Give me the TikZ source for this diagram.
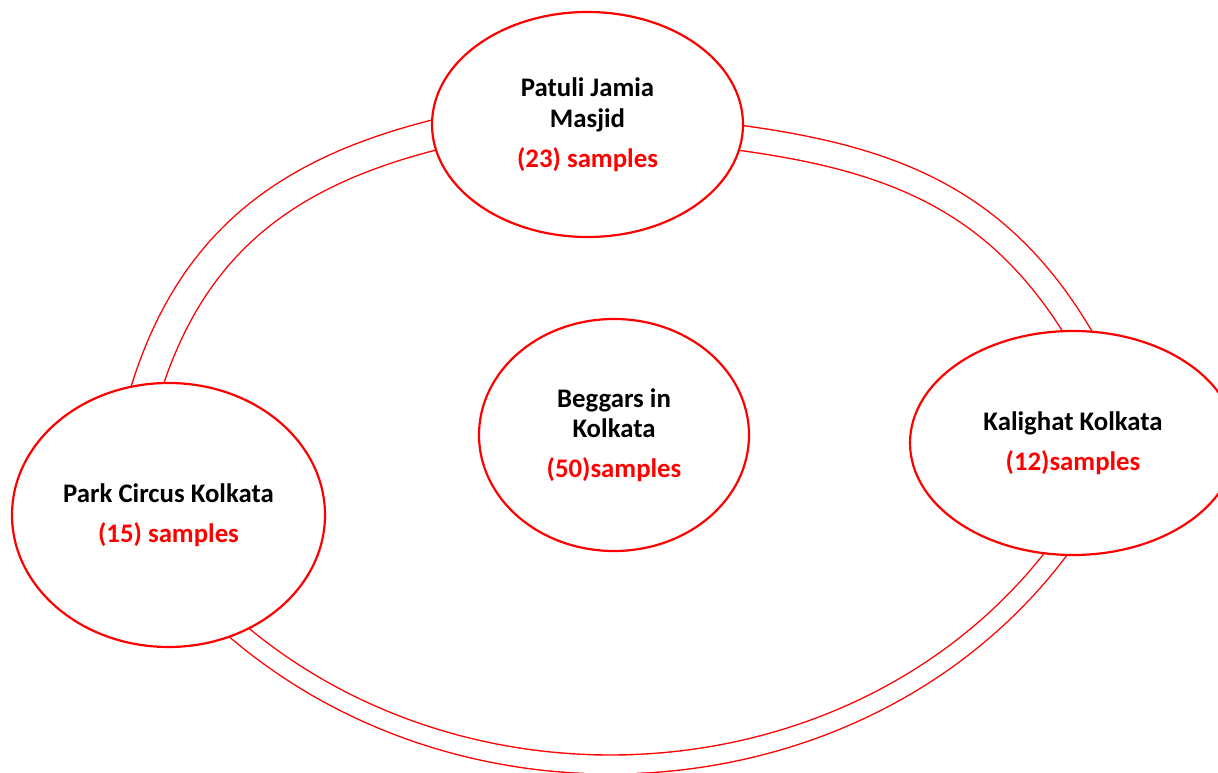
\documentclass[tikz,border=0pt]{standalone}
\usepackage{fontspec}
\setmainfont{Carlito}
\usetikzlibrary{shapes.geometric}
\definecolor{pred}{RGB}{255,0,0}
\pgfdeclarelayer{bg}
\pgfdeclarelayer{background}
\pgfsetlayers{bg,background,main}
\begin{document}
\begin{tikzpicture}[x=1pt,y=1pt,
  place/.style={ellipse, draw=pred, line width=2.2pt, fill=white, inner sep=0pt,
    align=center, font=\fontsize{26.8pt}{30.5pt}\selectfont\bfseries},
  ring/.style={draw=pred, line width=1.4pt, double=white,
    shorten <=-20pt, shorten >=-20pt},
  redtxt/.style={text=pred}
]
\useasboundingbox (0,0) rectangle (1218,773);
\begin{pgfonlayer}{bg}
  \fill[white] (0,0) rectangle (1218,773);
\end{pgfonlayer}

\node[place, minimum width=311pt, minimum height=225pt] (patuli) at (587.5,648.5)
  {Patuli Jamia\\Masjid\\[9.5pt]\textcolor{pred}{(23) samples}};
\node[place, minimum width=313pt, minimum height=264pt] (park) at (168.5,258)
  {Park Circus Kolkata\\[9.5pt]\textcolor{pred}{(15) samples}};
\node[place, minimum width=326pt, minimum height=224pt] (kalighat) at (1073,330)
  {Kalighat Kolkata\\[9.5pt]\textcolor{pred}{(12)samples}};
\node[place, minimum width=270pt, minimum height=232pt] (beggars) at (614,338)
  {Beggars in\\Kolkata\\[9.5pt]\textcolor{pred}{(50)samples}};

\begin{pgfonlayer}{background}
  \draw[ring, double distance=28.6pt] (patuli.184.6) to[out=193, in=74] (park.99.3);
  \draw[ring, double distance=23.6pt] (patuli.355) to[out=353, in=119.5] (kalighat.88);
  \draw[ring, double distance=17.6pt] (park.301.5) to[out=318, in=234.5, looseness=0.96] (kalighat.261.3);
\end{pgfonlayer}
\end{tikzpicture}
\end{document}
